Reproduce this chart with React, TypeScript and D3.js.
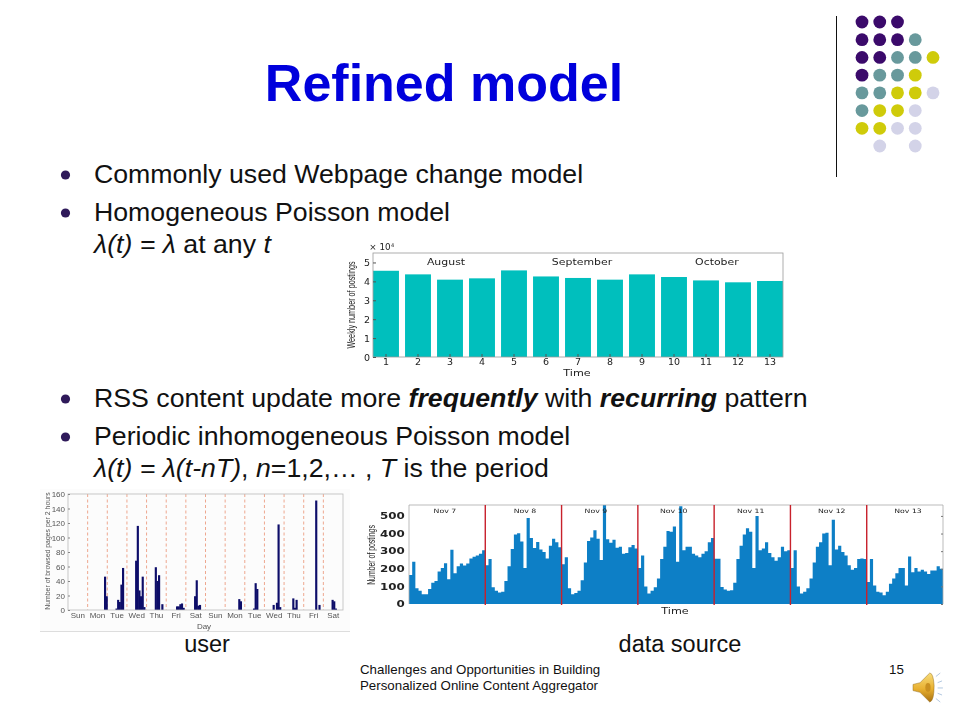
import React, { useRef, useEffect } from "react";
import * as d3 from "d3";

// weekly postings chart (x 10^4)
const weeks = ["1", "2", "3", "4", "5", "6", "7", "8", "9", "10", "11", "12", "13"];
const weeklyPostings = [4.56, 4.37, 4.09, 4.16, 4.58, 4.26, 4.18, 4.09, 4.37, 4.23, 4.05, 3.95, 4.02];
const months = ["August", "September", "October"];
const monthWeeks = [2.875, 7.125, 11.34];

// user chart: only the non empty 2 hour bins
const userDays = ["Sun", "Mon", "Tue", "Wed", "Thu", "Fri", "Sat", "Sun", "Mon", "Tue", "Wed", "Thu", "Fri", "Sat"];
const userBins = [22, 23, 29, 30, 31, 32, 33, 41, 42, 43, 44, 45, 46, 53, 54, 55, 57, 66, 67, 68, 69, 70, 77, 78, 79, 80, 104, 105, 113, 114, 115, 125, 127, 128, 129, 137, 138, 139, 151, 153, 161, 162, 163];
const userPages = [46, 19, 2, 14, 11, 35, 58, 68, 116, 27, 19, 46, 4, 59, 40, 48, 8, 5, 5, 8, 9, 3, 19, 41, 6, 7, 15, 12, 2, 37, 29, 7, 10, 118, 4, 16, 3, 14, 151, 7, 14, 12, 2];

// data source chart: hourly postings
const sourceDays = ["Nov 7", "Nov 8", "Nov 9", "Nov 10", "Nov 11", "Nov 12", "Nov 13"];
const sourceDayHours = [11.3, 36.5, 58.8, 83.3, 107.5, 133, 157];
const nov7 = [165, 240, 90, 75, 55, 55, 85, 120, 130, 185, 205, 232, 140, 308, 175, 215, 230, 218, 230, 258, 268, 275, 285, 305];
const nov8 = [220, 255, 95, 75, 65, 70, 130, 215, 312, 395, 402, 355, 205, 488, 375, 318, 352, 310, 295, 258, 330, 370, 350, 322];
const nov9 = [225, 265, 90, 55, 62, 75, 135, 235, 358, 378, 418, 370, 250, 562, 368, 348, 365, 320, 325, 285, 290, 322, 335, 315];
const nov10 = [205, 275, 100, 60, 75, 95, 145, 255, 325, 415, 410, 440, 240, 555, 305, 325, 325, 285, 275, 265, 285, 300, 350, 375];
const nov11 = [257, 257, 96, 82, 75, 78, 120, 255, 330, 395, 430, 410, 205, 500, 305, 315, 350, 290, 265, 245, 265, 325, 300, 305];
const nov12 = [205, 305, 100, 60, 70, 90, 145, 235, 325, 350, 400, 405, 220, 478, 310, 330, 295, 275, 220, 195, 205, 255, 258, 255];
const nov13 = [125, 255, 105, 70, 65, 50, 70, 115, 145, 175, 205, 205, 105, 270, 180, 205, 185, 195, 185, 170, 190, 190, 215, 200];
const hourlyPostings = [...nov7, ...nov8, ...nov9, ...nov10, ...nov11, ...nov12, ...nov13];

// corner decoration
const dotRows = ["PPP..", "PPPT.", "PPTTY", "PTTY.", "TTYYL", "TYYL.", "YYLL.", ".L.L."];
const dotColors: Record<string, string> = { P: "#3b0a6b", T: "#68999c", Y: "#cfcb0a", L: "#d3d3e8" };

const SANS = "Liberation Sans, Arial, sans-serif";
const WIDE = "DejaVu Sans";

export default function App() {
  const chartRef = useRef<SVGSVGElement>(null);

  useEffect(() => {
    const svg = d3.select(chartRef.current);
    svg.selectAll("*").remove();

    const defs = svg.append("defs");
    defs.append("filter").attr("id", "soft").append("feGaussianBlur").attr("stdDeviation", 0.45);
    defs.append("filter").attr("id", "softer").append("feGaussianBlur").attr("stdDeviation", 0.7);
    const gold = defs.append("linearGradient").attr("id", "gold").attr("x1", 0).attr("y1", 0).attr("x2", 0).attr("y2", 1);
    gold.append("stop").attr("offset", 0).attr("stop-color", "#f7dc7a");
    gold.append("stop").attr("offset", 0.55).attr("stop-color", "#e8b030");
    gold.append("stop").attr("offset", 1).attr("stop-color", "#a87010");

    // stretched small text, the pasted charts are wider than tall
    const wideText = (g: any, x: number, y: number, s: string, size: number, sx = 1.3) =>
      g.append("text")
        .attr("transform", `translate(${x},${y}) scale(${sx},1)`)
        .attr("text-anchor", "middle")
        .attr("font-family", WIDE)
        .attr("font-size", size)
        .attr("fill", "#222")
        .text(s);

    // ---- corner dots
    const dotX = d3.scalePoint<number>().domain([0, 1, 2, 3, 4]).range([862, 933]);
    const dotY = d3.scalePoint<number>().domain(d3.range(dotRows.length)).range([22, 146]);
    dotRows.forEach((row, r) => {
      row.split("").forEach((c, i) => {
        if (c === ".") return;
        svg.append("circle").attr("cx", dotX(i)!).attr("cy", dotY(r)!).attr("r", 6.4).attr("fill", dotColors[c]);
      });
    });
    svg.append("line").attr("x1", 836.5).attr("x2", 836.5).attr("y1", 16).attr("y2", 177).attr("stroke", "#111").attr("stroke-width", 1);

    // ---- slide text
    svg.append("text").attr("x", 444).attr("y", 101).attr("text-anchor", "middle")
      .attr("font-family", SANS).attr("font-weight", "bold").attr("font-size", 52).attr("fill", "#0000dc").text("Refined model");

    const body = svg.append("g").attr("font-family", SANS).attr("font-size", 26.7).attr("fill", "#111");
    const addLine = (y: number, parts: [string, string?][]) => {
      const t = body.append("text").attr("x", 94).attr("y", y);
      parts.forEach(([s, style]) => {
        const span = t.append("tspan").text(s);
        if (style === "i") span.attr("font-style", "italic");
        if (style === "bi") span.attr("font-style", "italic").attr("font-weight", "bold");
      });
    };
    addLine(183, [["Commonly used Webpage change model"]]);
    addLine(221, [["Homogeneous Poisson model"]]);
    addLine(253, [["λ(t) = λ", "i"], [" at any "], ["t", "i"]]);
    addLine(407, [["RSS content update more "], ["frequently", "bi"], [" with "], ["recurring", "bi"], [" pattern"]]);
    addLine(445, [["Periodic inhomogeneous Poisson model"]]);
    addLine(477, [["λ(t) = λ(t-nT)", "i"], [", "], ["n", "i"], ["=1,2,… , "], ["T", "i"], [" is the period"]]);
    [175, 213, 399, 437].forEach((y) => {
      svg.append("circle").attr("cx", 65.5).attr("cy", y).attr("r", 4.6).attr("fill", "#2f1a5a");
    });

    svg.append("text").attr("x", 207).attr("y", 652).attr("text-anchor", "middle").attr("font-family", SANS).attr("font-size", 23.5).attr("fill", "#111").text("user");
    svg.append("text").attr("x", 680).attr("y", 652).attr("text-anchor", "middle").attr("font-family", SANS).attr("font-size", 23.5).attr("fill", "#111").text("data source");

    const foot = svg.append("g").attr("font-family", SANS).attr("font-size", 13.3).attr("fill", "#111");
    foot.append("text").attr("x", 360).attr("y", 674).text("Challenges and Opportunities in Building");
    foot.append("text").attr("x", 360).attr("y", 690).text("Personalized Online Content Aggregator");
    foot.append("text").attr("x", 889).attr("y", 674).text("15");

    // ---- weekly chart
    const wk = svg.append("g").attr("filter", "url(#soft)");
    const wkX = d3.scaleBand().domain(weeks).range([370, 786]).paddingInner(0.19).paddingOuter(0.095);
    const wkY = d3.scaleLinear().domain([0, 5.5]).range([357, 253]);
    defs.append("clipPath").attr("id", "wkClip").append("rect").attr("x", 373).attr("y", 253).attr("width", 410).attr("height", 104);
    wk.append("g").attr("clip-path", "url(#wkClip)").selectAll("rect").data(weeklyPostings).enter().append("rect")
      .attr("x", (_, i) => wkX(weeks[i])!).attr("y", (d) => wkY(d))
      .attr("width", wkX.bandwidth()).attr("height", (d) => wkY(0) - wkY(d)).attr("fill", "#00bfbd");
    wk.append("rect").attr("x", 373).attr("y", 253).attr("width", 410).attr("height", 104).attr("fill", "none").attr("stroke", "#999").attr("stroke-width", 0.8);
    const wkLeft = wk.append("g").attr("transform", "translate(373,0)")
      .call(d3.axisLeft(wkY).tickValues([0, 1, 2, 3, 4, 5]).tickFormat(d3.format("d")).tickSize(-3).tickPadding(3));
    const wkBottom = wk.append("g").attr("transform", "translate(0,357)")
      .call(d3.axisBottom(wkX).tickSize(-3).tickPadding(1));
    [wkLeft, wkBottom].forEach((a) => {
      a.select(".domain").remove();
      a.selectAll("line").attr("stroke", "#555");
      a.selectAll("text").attr("font-family", WIDE).attr("font-size", 9.5).attr("fill", "#222");
    });
    months.forEach((m, i) => {
      const w = monthWeeks[i];
      const x = wkX(String(Math.floor(w)))! + wkX.bandwidth() / 2 + wkX.step() * (w % 1);
      wideText(wk, x, 265, m, 8.4);
    });
    wideText(wk, 577, 376, "Time", 8.6);
    wideText(wk, 380, 250, "× 10", 8, 1.1);
    wk.append("text").attr("x", 391).attr("y", 247).attr("font-family", WIDE).attr("font-size", 5).attr("fill", "#222").text("4");
    wk.append("text").attr("transform", "translate(355,305) rotate(-90) scale(0.63,1)").attr("text-anchor", "middle")
      .attr("font-family", SANS).attr("font-size", 11.5).attr("fill", "#222").text("Weekly number of postings");

    // ---- user chart
    const usr = svg.append("g").attr("filter", "url(#softer)");
    usr.append("rect").attr("x", 40).attr("y", 489).attr("width", 310).attr("height", 143).attr("fill", "#fcfcfc");
    usr.append("line").attr("x1", 40).attr("x2", 350).attr("y1", 631.5).attr("y2", 631.5).attr("stroke", "#ddd");
    const dayX = d3.scaleBand<number>().domain(d3.range(userDays.length)).range([68, 343]);
    const binX = d3.scaleLinear().domain([0, 168]).range([68, 343]);
    const usrY = d3.scaleLinear().domain([0, 160]).range([610, 494]);
    usr.selectAll("line.day").data(d3.range(1, userDays.length)).enter().append("line").attr("class", "day")
      .attr("x1", (d) => binX(d * 12)).attr("x2", (d) => binX(d * 12)).attr("y1", 494).attr("y2", 610)
      .attr("stroke", "#eea78f").attr("stroke-width", 1).attr("stroke-dasharray", "3,2.5");
    usr.selectAll("rect.page").data(userPages).enter().append("rect").attr("class", "page")
      .attr("x", (_, i) => binX(userBins[i])).attr("y", (d) => usrY(d))
      .attr("width", binX(1) - binX(0) + 0.5).attr("height", (d) => usrY(0) - usrY(d)).attr("fill", "#0a0a68");
    usr.append("rect").attr("x", 68).attr("y", 494).attr("width", 275).attr("height", 116).attr("fill", "none").attr("stroke", "#bbb").attr("stroke-width", 0.8);
    const usrLeft = usr.append("g").attr("transform", "translate(68,0)")
      .call(d3.axisLeft(usrY).tickValues(d3.range(0, 161, 20)).tickSize(-2).tickPadding(3));
    const usrBottom = usr.append("g").attr("transform", "translate(0,610)")
      .call(d3.axisBottom(dayX).tickFormat((d) => userDays[d as number]).tickSize(0).tickPadding(2));
    [usrLeft, usrBottom].forEach((a) => {
      a.select(".domain").remove();
      a.selectAll("line").attr("stroke", "#888");
      a.selectAll("text").attr("font-family", SANS).attr("font-size", 8).attr("fill", "#555");
    });
    usr.append("text").attr("x", 204).attr("y", 629).attr("text-anchor", "middle").attr("font-family", SANS).attr("font-size", 8).attr("fill", "#555").text("Day");
    usr.append("text").attr("transform", "translate(50,551) rotate(-90)").attr("text-anchor", "middle")
      .attr("font-family", SANS).attr("font-size", 6.9).attr("fill", "#555").text("Number of browsed pages per 2 hours");

    // ---- data source chart
    const src = svg.append("g").attr("filter", "url(#soft)");
    const hourX = d3.scaleLinear().domain([0, hourlyPostings.length]).range([409, 943]);
    const srcY = d3.scaleLinear().domain([0, 562]).range([604, 505]).clamp(true);
    const hourArea = d3.area<number>()
      .x((_, i) => hourX(i))
      .y0(srcY(0))
      .y1((d) => srcY(d))
      .curve(d3.curveStepAfter);
    src.append("path")
      .datum([...hourlyPostings, hourlyPostings[hourlyPostings.length - 1]])
      .attr("d", hourArea)
      .attr("fill", "#0e7fc6");
    src.append("path").attr("d", "M409,604V505H943V604").attr("fill", "none").attr("stroke", "#aaa").attr("stroke-width", 0.8);
    src.selectAll("line.midnight").data(d3.range(1, sourceDays.length)).enter().append("line").attr("class", "midnight")
      .attr("x1", (d) => hourX(d * 24)).attr("x2", (d) => hourX(d * 24)).attr("y1", 505).attr("y2", 605)
      .attr("stroke", "#c8202c").attr("stroke-width", 1.4);
    sourceDays.forEach((d, i) => {
      wideText(src, hourX(sourceDayHours[i]), 513, d, 6);
    });
    const srcLeft = src.append("g").attr("transform", "translate(409,0)")
      .call(d3.axisLeft(srcY).tickValues(d3.range(0, 501, 100)).tickSize(0).tickPadding(3));
    srcLeft.select(".domain").remove();
    srcLeft.selectAll("text").attr("font-family", WIDE).attr("font-weight", "bold").attr("font-size", 8.5).attr("fill", "#222")
      .attr("x", -3).attr("transform", "scale(1.4,1)");
    const srcRight = src.append("g").attr("transform", "translate(943,0)")
      .call(d3.axisRight(srcY).tickValues(d3.range(0, 501, 100)).tickSize(-2).tickFormat(() => ""));
    srcRight.select(".domain").remove();
    srcRight.selectAll("line").attr("stroke", "#777");
    wideText(src, 675, 614, "Time", 8.6);
    src.append("text").attr("transform", "translate(375,555) rotate(-90) scale(0.6,1)").attr("text-anchor", "middle")
      .attr("font-family", SANS).attr("font-size", 11.5).attr("fill", "#222").text("Number of postings");

    // ---- speaker icon
    const icon = svg.append("g").attr("transform", "translate(913,673) scale(0.88)");
    icon.append("path").attr("d", "M0,13 L8,11 L19,0 Q23,0 24,14 Q24,32 19,33 L8,22 L0,20 Z").attr("fill", "url(#gold)").attr("stroke", "#8a6010").attr("stroke-width", 0.5);
    icon.append("ellipse").attr("cx", 17).attr("cy", 16.5).attr("rx", 3).attr("ry", 5).attr("fill", "#c99020");
    ["M26,4 L31,0", "M28,11 L33,9", "M28,17 L34,17", "M28,23 L33,25", "M26,29 L31,33"].forEach((d) => {
      icon.append("path").attr("d", d).attr("stroke", "#a8c0dc").attr("stroke-width", 1);
    });
  }, []);

  return (
    <svg
      ref={chartRef}
      width={960}
      height={720}
      style={{ position: "absolute", left: 0, top: 0, background: "#fff" }}
    ></svg>
  );
}
